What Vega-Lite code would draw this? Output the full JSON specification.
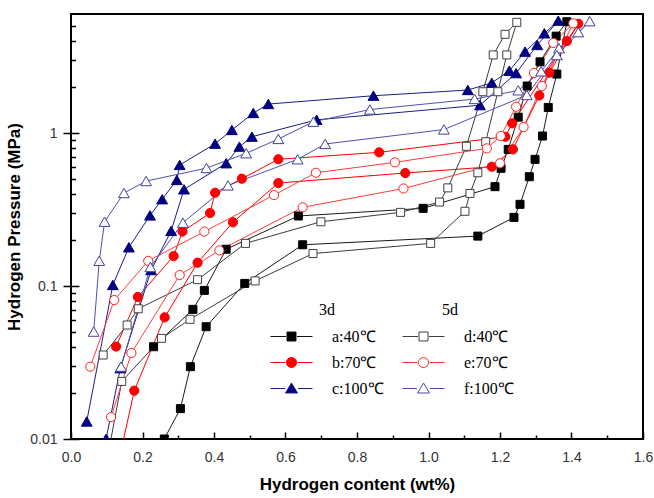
{
  "$schema": "https://vega.github.io/schema/vega-lite/v6.json",
  "width": 572,
  "height": 425,
  "autosize": {"type": "none"},
  "padding": {"left": 71, "top": 14, "right": 11, "bottom": 59},
  "background": "white",
  "config": {
    "view": {"stroke": "black", "strokeWidth": 2},
    "axis": {"grid": false, "domain": false, "tickColor": "black", "tickWidth": 1.5, "labelFont": "Liberation Sans", "labelFontSize": 14, "labelColor": "#333333", "labelFlush": false, "titleFont": "Liberation Sans", "titleFontSize": 17, "titleFontWeight": "bold", "titleColor": "black"},
    "legend": {"orient": "none", "padding": 0, "titleFont": "Liberation Serif", "titleFontSize": 16, "titleFontWeight": "normal", "titleColor": "black", "titlePadding": 8, "labelFont": "Liberation Serif", "labelFontSize": 16, "labelColor": "black", "symbolSize": 400, "symbolStrokeWidth": 1, "symbolOffset": 11, "labelOffset": 30, "rowPadding": 7}
  },
  "data": {"values": [
    {"s":"a:40℃","i":1,"x":0.231,"y":0.0401},
    {"s":"a:40℃","i":2,"x":0.341,"y":0.0704},
    {"s":"a:40℃","i":3,"x":0.373,"y":0.0936},
    {"s":"a:40℃","i":4,"x":0.434,"y":0.174},
    {"s":"a:40℃","i":5,"x":0.636,"y":0.287},
    {"s":"a:40℃","i":6,"x":0.985,"y":0.322},
    {"s":"a:40℃","i":7,"x":1.186,"y":0.446},
    {"s":"a:40℃","i":8,"x":1.203,"y":0.588},
    {"s":"a:40℃","i":9,"x":1.223,"y":0.782},
    {"s":"a:40℃","i":10,"x":1.251,"y":1.27},
    {"s":"a:40℃","i":11,"x":1.276,"y":2.03},
    {"s":"a:40℃","i":12,"x":1.312,"y":2.92},
    {"s":"a:40℃","i":13,"x":1.357,"y":4.3},
    {"s":"a:40℃","i":14,"x":1.387,"y":5.34},
    {"s":"a:40℃","i":15,"x":1.359,"y":2.43},
    {"s":"a:40℃","i":16,"x":1.335,"y":1.47},
    {"s":"a:40℃","i":17,"x":1.319,"y":0.956},
    {"s":"a:40℃","i":18,"x":1.298,"y":0.673},
    {"s":"a:40℃","i":19,"x":1.282,"y":0.518},
    {"s":"a:40℃","i":20,"x":1.256,"y":0.342},
    {"s":"a:40℃","i":21,"x":1.239,"y":0.281},
    {"s":"a:40℃","i":22,"x":1.138,"y":0.212},
    {"s":"a:40℃","i":23,"x":0.648,"y":0.186},
    {"s":"a:40℃","i":24,"x":0.486,"y":0.104},
    {"s":"a:40℃","i":25,"x":0.378,"y":0.0542},
    {"s":"a:40℃","i":26,"x":0.334,"y":0.0297},
    {"s":"a:40℃","i":27,"x":0.306,"y":0.0158},
    {"s":"a:40℃","i":28,"x":0.261,"y":0.01},

    {"s":"b:70℃","i":1,"x":0.126,"y":0.0402},
    {"s":"b:70℃","i":2,"x":0.187,"y":0.0848},
    {"s":"b:70℃","i":3,"x":0.287,"y":0.157},
    {"s":"b:70℃","i":4,"x":0.312,"y":0.227},
    {"s":"b:70℃","i":5,"x":0.389,"y":0.3},
    {"s":"b:70℃","i":6,"x":0.403,"y":0.407},
    {"s":"b:70℃","i":7,"x":0.478,"y":0.503},
    {"s":"b:70℃","i":8,"x":0.58,"y":0.674},
    {"s":"b:70℃","i":9,"x":0.862,"y":0.748},
    {"s":"b:70℃","i":10,"x":1.215,"y":0.946},
    {"s":"b:70℃","i":11,"x":1.234,"y":1.157},
    {"s":"b:70℃","i":12,"x":1.387,"y":3.99},
    {"s":"b:70℃","i":13,"x":1.419,"y":5.18},
    {"s":"b:70℃","i":14,"x":1.338,"y":2.48},
    {"s":"b:70℃","i":15,"x":1.31,"y":1.76},
    {"s":"b:70℃","i":16,"x":1.236,"y":0.782},
    {"s":"b:70℃","i":17,"x":1.177,"y":0.602},
    {"s":"b:70℃","i":18,"x":0.935,"y":0.548},
    {"s":"b:70℃","i":19,"x":0.58,"y":0.471},
    {"s":"b:70℃","i":20,"x":0.453,"y":0.261},
    {"s":"b:70℃","i":21,"x":0.354,"y":0.142},
    {"s":"b:70℃","i":22,"x":0.262,"y":0.0624},
    {"s":"b:70℃","i":23,"x":0.177,"y":0.0207},
    {"s":"b:70℃","i":24,"x":0.138,"y":0.008},

    {"s":"c:100℃","i":1,"x":0.044,"y":0.013},
    {"s":"c:100℃","i":2,"x":0.117,"y":0.1015},
    {"s":"c:100℃","i":3,"x":0.162,"y":0.179},
    {"s":"c:100℃","i":4,"x":0.221,"y":0.289},
    {"s":"c:100℃","i":5,"x":0.255,"y":0.369},
    {"s":"c:100℃","i":6,"x":0.296,"y":0.493},
    {"s":"c:100℃","i":7,"x":0.304,"y":0.618},
    {"s":"c:100℃","i":8,"x":0.403,"y":0.851},
    {"s":"c:100℃","i":9,"x":0.45,"y":1.046},
    {"s":"c:100℃","i":10,"x":0.51,"y":1.351},
    {"s":"c:100℃","i":11,"x":0.552,"y":1.547},
    {"s":"c:100℃","i":12,"x":0.846,"y":1.753},
    {"s":"c:100℃","i":13,"x":1.11,"y":1.91},
    {"s":"c:100℃","i":14,"x":1.177,"y":2.13},
    {"s":"c:100℃","i":15,"x":1.226,"y":2.55},
    {"s":"c:100℃","i":16,"x":1.27,"y":3.4},
    {"s":"c:100℃","i":17,"x":1.324,"y":4.48},
    {"s":"c:100℃","i":18,"x":1.363,"y":5.42},
    {"s":"c:100℃","i":19,"x":1.304,"y":3.76},
    {"s":"c:100℃","i":20,"x":1.245,"y":2.46},
    {"s":"c:100℃","i":21,"x":1.144,"y":1.52},
    {"s":"c:100℃","i":22,"x":0.687,"y":1.22},
    {"s":"c:100℃","i":23,"x":0.506,"y":0.946},
    {"s":"c:100℃","i":24,"x":0.471,"y":0.814},
    {"s":"c:100℃","i":25,"x":0.434,"y":0.634},
    {"s":"c:100℃","i":26,"x":0.316,"y":0.428},
    {"s":"c:100℃","i":27,"x":0.28,"y":0.229},
    {"s":"c:100℃","i":28,"x":0.224,"y":0.127},
    {"s":"c:100℃","i":29,"x":0.138,"y":0.029},
    {"s":"c:100℃","i":30,"x":0.098,"y":0.01},

    {"s":"d:40℃","i":1,"x":0.09,"y":0.0354},
    {"s":"d:40℃","i":2,"x":0.157,"y":0.0556},
    {"s":"d:40℃","i":3,"x":0.188,"y":0.071},
    {"s":"d:40℃","i":4,"x":0.354,"y":0.11},
    {"s":"d:40℃","i":5,"x":0.488,"y":0.19},
    {"s":"d:40℃","i":6,"x":0.699,"y":0.263},
    {"s":"d:40℃","i":7,"x":0.922,"y":0.303},
    {"s":"d:40℃","i":8,"x":1.031,"y":0.354},
    {"s":"d:40℃","i":9,"x":1.054,"y":0.438},
    {"s":"d:40℃","i":10,"x":1.106,"y":0.819},
    {"s":"d:40℃","i":11,"x":1.152,"y":1.862},
    {"s":"d:40℃","i":12,"x":1.181,"y":3.24},
    {"s":"d:40℃","i":13,"x":1.214,"y":4.42},
    {"s":"d:40℃","i":14,"x":1.247,"y":5.29},
    {"s":"d:40℃","i":15,"x":1.219,"y":3.24},
    {"s":"d:40℃","i":16,"x":1.194,"y":1.862},
    {"s":"d:40℃","i":17,"x":1.16,"y":0.877},
    {"s":"d:40℃","i":18,"x":1.138,"y":0.55},
    {"s":"d:40℃","i":19,"x":1.116,"y":0.403},
    {"s":"d:40℃","i":20,"x":1.102,"y":0.308},
    {"s":"d:40℃","i":21,"x":1.006,"y":0.19},
    {"s":"d:40℃","i":22,"x":0.677,"y":0.163},
    {"s":"d:40℃","i":23,"x":0.515,"y":0.108},
    {"s":"d:40℃","i":24,"x":0.333,"y":0.0606},
    {"s":"d:40℃","i":25,"x":0.253,"y":0.0455},
    {"s":"d:40℃","i":26,"x":0.142,"y":0.0238},
    {"s":"d:40℃","i":27,"x":0.104,"y":0.008},

    {"s":"e:70℃","i":1,"x":0.054,"y":0.0297},
    {"s":"e:70℃","i":2,"x":0.121,"y":0.081},
    {"s":"e:70℃","i":3,"x":0.216,"y":0.146},
    {"s":"e:70℃","i":4,"x":0.373,"y":0.227},
    {"s":"e:70℃","i":5,"x":0.568,"y":0.393},
    {"s":"e:70℃","i":6,"x":0.685,"y":0.55},
    {"s":"e:70℃","i":7,"x":0.906,"y":0.643},
    {"s":"e:70℃","i":8,"x":1.163,"y":0.794},
    {"s":"e:70℃","i":9,"x":1.202,"y":0.956},
    {"s":"e:70℃","i":10,"x":1.245,"y":1.485},
    {"s":"e:70℃","i":11,"x":1.295,"y":2.47},
    {"s":"e:70℃","i":12,"x":1.349,"y":3.88},
    {"s":"e:70℃","i":13,"x":1.405,"y":5.21},
    {"s":"e:70℃","i":14,"x":1.317,"y":2.03},
    {"s":"e:70℃","i":15,"x":1.266,"y":1.094},
    {"s":"e:70℃","i":16,"x":1.2,"y":0.634},
    {"s":"e:70℃","i":17,"x":0.93,"y":0.434},
    {"s":"e:70℃","i":18,"x":0.648,"y":0.327},
    {"s":"e:70℃","i":19,"x":0.415,"y":0.171},
    {"s":"e:70℃","i":20,"x":0.304,"y":0.118},
    {"s":"e:70℃","i":21,"x":0.169,"y":0.0365},
    {"s":"e:70℃","i":22,"x":0.112,"y":0.0139},

    {"s":"f:100℃","i":1,"x":0.0635,"y":0.0503},
    {"s":"f:100℃","i":2,"x":0.079,"y":0.146},
    {"s":"f:100℃","i":3,"x":0.094,"y":0.263},
    {"s":"f:100℃","i":4,"x":0.148,"y":0.405},
    {"s":"f:100℃","i":5,"x":0.21,"y":0.485},
    {"s":"f:100℃","i":6,"x":0.379,"y":0.59},
    {"s":"f:100℃","i":7,"x":0.49,"y":0.737},
    {"s":"f:100℃","i":8,"x":0.58,"y":0.914},
    {"s":"f:100℃","i":9,"x":0.678,"y":1.185},
    {"s":"f:100℃","i":10,"x":0.836,"y":1.424},
    {"s":"f:100℃","i":11,"x":1.129,"y":1.668},
    {"s":"f:100℃","i":12,"x":1.251,"y":1.9},
    {"s":"f:100℃","i":13,"x":1.315,"y":2.53},
    {"s":"f:100℃","i":14,"x":1.365,"y":3.58},
    {"s":"f:100℃","i":15,"x":1.419,"y":4.56},
    {"s":"f:100℃","i":16,"x":1.451,"y":5.38},
    {"s":"f:100℃","i":17,"x":1.359,"y":3.23},
    {"s":"f:100℃","i":18,"x":1.275,"y":1.77},
    {"s":"f:100℃","i":19,"x":1.043,"y":1.054},
    {"s":"f:100℃","i":20,"x":0.711,"y":0.848},
    {"s":"f:100℃","i":21,"x":0.634,"y":0.673},
    {"s":"f:100℃","i":22,"x":0.439,"y":0.454},
    {"s":"f:100℃","i":23,"x":0.313,"y":0.259},
    {"s":"f:100℃","i":24,"x":0.222,"y":0.133},
    {"s":"f:100℃","i":25,"x":0.14,"y":0.0297}
  ]},
  "layer": [
    {
      "mark": {"type": "line", "clip": true, "strokeWidth": 1},
      "encoding": {
        "x": {"field": "x", "type": "quantitative", "scale": {"domain": [0, 1.6], "nice": false, "zero": false},
              "axis": {"orient": "bottom", "title": "Hydrogen content (wt%)", "values": [0, 0.2, 0.4, 0.6, 0.8, 1, 1.2, 1.4, 1.6], "format": ".1f", "ticks": false, "labelPadding": 11, "titlePadding": 12}},
        "y": {"field": "y", "type": "quantitative", "scale": {"type": "log", "domain": [0.01, 6], "nice": false},
              "axis": {"orient": "left", "title": "Hydrogen Pressure (MPa)", "values": [0.01, 0.1, 1], "format": "~g", "tickSize": 8, "labelPadding": 6, "titlePadding": 6}},
        "color": {"field": "s", "type": "nominal", "legend": null,
                  "scale": {"domain": ["a:40℃", "b:70℃", "c:100℃", "d:40℃", "e:70℃", "f:100℃"], "range": ["#1a1a1a", "#ff0000", "#1c1c8c", "#3c3c3c", "#ff3a3a", "#5050b0"]}},
        "order": {"field": "i", "type": "quantitative"}
      }
    },
    {
      "mark": {"type": "point", "clip": true, "size": 64, "opacity": 1, "strokeWidth": 1},
      "encoding": {
        "x": {"field": "x", "type": "quantitative", "axis": {"orient": "bottom", "title": null, "labels": false, "values": [0.1, 0.3, 0.5, 0.7, 0.9, 1.1, 1.3, 1.5], "tickSize": -4}},
        "y": {"field": "y", "type": "quantitative", "axis": {"orient": "left", "title": null, "labels": false, "values": [0.02, 0.03, 0.04, 0.05, 0.06, 0.07, 0.08, 0.09, 0.2, 0.3, 0.4, 0.5, 0.6, 0.7, 0.8, 0.9, 2, 3, 4, 5], "tickSize": -4.5}},
        "shape": {"field": "s", "type": "nominal", "legend": null,
                  "scale": {"domain": ["a:40℃", "b:70℃", "c:100℃", "d:40℃", "e:70℃", "f:100℃"],
                            "range": ["M-1,-1H1V1H-1Z", "M-1.15,0A1.15,1.15,0,1,0,1.15,0A1.15,1.15,0,1,0,-1.15,0Z", "M0,-1.2L1.35,1.15H-1.35Z", "M-1,-1H1V1H-1Z", "M-1.15,0A1.15,1.15,0,1,0,1.15,0A1.15,1.15,0,1,0,-1.15,0Z", "M0,-1.2L1.35,1.15H-1.35Z"]}},
        "stroke": {"field": "s", "type": "nominal", "legend": null,
                   "scale": {"domain": ["a:40℃", "b:70℃", "c:100℃", "d:40℃", "e:70℃", "f:100℃"], "range": ["#000000", "#ff0000", "#000080", "#404040", "#ff2020", "#4040a0"]}},
        "fill": {"field": "s", "type": "nominal", "legend": null,
                 "scale": {"domain": ["a:40℃", "b:70℃", "c:100℃", "d:40℃", "e:70℃", "f:100℃"], "range": ["#000000", "#ff0000", "#000080", "#ffffff", "#ffffff", "#ffffff"]}}
      }
    },
    {
      "transform": [{"filter": "false"}],
      "mark": {"type": "point", "opacity": 1, "strokeWidth": 1},
      "encoding": {
        "x": {"field": "x", "type": "quantitative", "axis": {"orient": "bottom", "title": null, "labels": false, "values": [0, 0.2, 0.4, 0.6, 0.8, 1, 1.2, 1.4, 1.6], "tickSize": -7}},
        "y": {"field": "y", "type": "quantitative", "axis": {"orient": "left", "title": null, "labels": false, "values": [0.01, 0.1, 1], "tickSize": -8}},
        "shape": {"field": "s", "type": "nominal",
                  "scale": {"domain": ["a:40℃", "b:70℃", "c:100℃"], "range": ["M-2.1,0H-0.55M0.55,0H2.1M-0.45,-0.45H0.45V0.45H-0.45Z", "M-2.1,0H-0.6M0.6,0H2.1M-0.5,0A0.5,0.5,0,1,0,0.5,0A0.5,0.5,0,1,0,-0.5,0Z", "M-2.1,0H-0.65M0.65,0H2.1M0,-0.55L0.6,0.45H-0.6Z"]},
                  "legend": {"title": "3d", "legendX": 199, "legendY": 288, "titleAnchor": "middle", "titleAlign": "center"}},
        "stroke": {"field": "s", "type": "nominal",
                   "scale": {"domain": ["a:40℃", "b:70℃", "c:100℃"], "range": ["#111111", "#ff0000", "#1c1c8c"]},
                   "legend": {"title": "3d", "legendX": 199, "legendY": 288, "titleAnchor": "middle", "titleAlign": "center"}},
        "fill": {"field": "s", "type": "nominal",
                 "scale": {"domain": ["a:40℃", "b:70℃", "c:100℃"], "range": ["#000000", "#ff0000", "#000080"]},
                 "legend": {"title": "3d", "legendX": 199, "legendY": 288, "titleAnchor": "middle", "titleAlign": "center"}}
      }
    },
    {
      "transform": [{"filter": "false"}],
      "mark": {"type": "point", "opacity": 1, "strokeWidth": 1},
      "encoding": {
        "x": {"field": "x", "type": "quantitative", "axis": null},
        "y": {"field": "y", "type": "quantitative", "axis": null},
        "shape": {"field": "s", "type": "nominal",
                  "scale": {"domain": ["d:40℃", "e:70℃", "f:100℃"], "range": ["M-2.1,0H-0.55M0.55,0H2.1M-0.45,-0.45H0.45V0.45H-0.45Z", "M-2.1,0H-0.6M0.6,0H2.1M-0.5,0A0.5,0.5,0,1,0,0.5,0A0.5,0.5,0,1,0,-0.5,0Z", "M-2.1,0H-0.65M0.65,0H2.1M0,-0.55L0.6,0.45H-0.6Z"]},
                  "legend": {"title": "5d", "legendX": 331, "legendY": 288, "titleAnchor": "middle", "titleAlign": "right"}},
        "stroke": {"field": "s", "type": "nominal",
                   "scale": {"domain": ["d:40℃", "e:70℃", "f:100℃"], "range": ["#404040", "#ff3030", "#4848a8"]},
                   "legend": {"title": "5d", "legendX": 331, "legendY": 288, "titleAnchor": "middle", "titleAlign": "right"}},
        "fill": {"field": "s", "type": "nominal",
                 "scale": {"domain": ["d:40℃", "e:70℃", "f:100℃"], "range": ["#ffffff", "#ffffff", "#ffffff"]},
                 "legend": {"title": "5d", "legendX": 331, "legendY": 288, "titleAnchor": "middle", "titleAlign": "right"}}
      }
    }
  ],
  "resolve": {
    "scale": {"shape": "independent", "stroke": "independent", "fill": "independent"},
    "axis": {"x": "independent", "y": "independent"}
  }
}
